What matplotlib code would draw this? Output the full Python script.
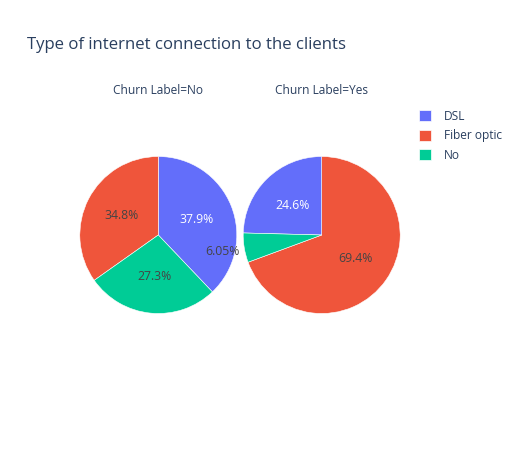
import numpy as np
import matplotlib
matplotlib.use('Agg')
import matplotlib.pyplot as plt
from matplotlib.patches import Patch

categories = ['DSL', 'Fiber optic', 'No']
colors = ['#636efa', '#EF553B', '#00cc96']
text_colors = ['white', '#444444', '#444444']
churn_no = [37.9, 34.8, 27.3]
churn_yes = [24.6, 69.4, 6.05]
panel_titles = ['Churn Label=No', 'Churn Label=Yes']

plt.rcParams['font.family'] = ['Open Sans', 'DejaVu Sans']

W, H = 522, 450
fig = plt.figure(figsize=(W / 100, H / 100), dpi=100)

# pie centres / radius in pixels
centres = [(158.3, 235), (321.7, 235)]
R = 78.5

def pct_fmt(p):
    return '%.3g%%' % p

for (cx, cy), vals, ttl in zip(centres, [churn_no, churn_yes], panel_titles):
    ax = fig.add_axes([(cx - R) / W, (H - cy - R) / H, 2 * R / W, 2 * R / H])
    order = np.argsort(vals)[::-1]
    v = np.array(vals)[order]
    c = [colors[i] for i in order]
    tc = [text_colors[i] for i in order]
    # plotly style: counterclockwise, first (largest) slice ends at 12 o'clock
    start = 90 - 360 * v[0] / v.sum()
    wedges, texts, autotexts = ax.pie(v, colors=c, startangle=start, counterclock=True,
                                      radius=1, autopct=pct_fmt, pctdistance=0.53,
                                      wedgeprops=dict(edgecolor='white', linewidth=0.4),
                                      textprops=dict(fontsize=8.8))
    for w, t, col, frac in zip(wedges, autotexts, tc, v / v.sum()):
        t.set_color(col)
        t.set_text(pct_fmt(100 * frac))
        if frac < 0.1:
            # small slice: label goes outside
            ang = np.deg2rad((w.theta1 + w.theta2) / 2)
            t.set_position((1.28 * np.cos(ang), 1.28 * np.sin(ang)))
            t.set_color('#444444')
        t.set_clip_on(False)
    ax.set_xlim(-1, 1)
    ax.set_ylim(-1, 1)
    ax.set_aspect('equal')
    ax.axis('off')
    fig.text(cx / W, 1 - 91 / H, ttl, ha='center', va='center', fontsize=8.6, color='#2a3f5f')

fig.text(27 / W, 1 - 45 / H, 'Type of internet connection to the clients',
         ha='left', va='center', fontsize=12.1, color='#2a3f5f')

handles = [Patch(facecolor=col, edgecolor='white', linewidth=0.5) for col in colors]
leg = fig.legend(handles, categories, loc='upper left', bbox_to_anchor=(414 / W, 1 - 105 / H),
                 frameon=False, fontsize=8.6, handlelength=1.0, handleheight=1.0,
                 handletextpad=1.1, labelspacing=0.55, borderaxespad=0)
for t in leg.get_texts():
    t.set_color('#2a3f5f')

fig.savefig('out.png', dpi=100)
